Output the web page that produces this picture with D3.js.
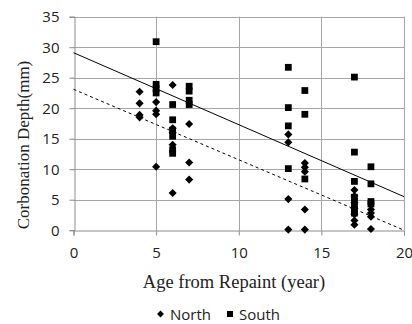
<!DOCTYPE html>
<html>
<head>
<meta charset="utf-8">
<script src="https://cdn.jsdelivr.net/npm/d3@7"></script>
<style>
  html, body { margin: 0; padding: 0; background: #fff; }
  svg { display: block; }
</style>
</head>
<body>
<div id="chart"></div>
<script>
// ---- data ----
const northX = [4,4,4,4, 5,5,5,5, 6,6,6,6,6, 7,7,7, 13,13,13,13, 14,14,14,14,14, 17,17,17,17,17,17,17, 18,18,18,18];
const northY = [22.7,20.8,18.9,18.5, 21.0,19.6,19.0,10.4, 23.8,16.7,16.0,14.0,6.1, 17.4,11.1,8.3, 15.7,14.4,5.1,0.1, 11.0,10.3,9.6,3.4,0.1, 6.6,5.6,4.5,3.6,2.6,1.6,0.9, 3.4,2.8,2.2,0.2];
const southX = [5,5,5,5, 6,6,6,6,6,6, 7,7,7,7, 13,13,13,13, 14,14,14, 17,17,17,17,17,17,17,17, 18,18,18,18];
const southY = [30.9,23.9,23.2,22.5, 20.6,18.1,16.4,15.4,13.2,12.6, 23.6,22.8,21.3,20.6, 26.7,20.1,17.1,10.1, 22.9,19.0,8.4, 25.1,12.8,8.0,5.4,4.7,4.0,3.4,2.8, 10.4,7.6,4.7,4.3];
const trendX = [0, 20];
const southTrendY = [29.1, 5.5];
const northTrendY = [23.1, 0];
const xTicks = [0, 5, 10, 15, 20];
const yTicks = [0, 5, 10, 15, 20, 25, 30, 35];
const seriesNames = ["North", "South"];
const xTitle = "Age from Repaint (year)";
const yTitle = "Corbonation Depth(mm)";

// ---- layout ----
const W = 412, H = 324;
const svg = d3.select("#chart").append("svg").attr("width", W).attr("height", H);

const x = d3.scaleLinear().domain([0, 20]).range([73.5, 404]);
const y = d3.scaleLinear().domain([0, 35]).range([230.2, 16.7]);

const gridColor = "#a6a6a6";
const axisColor = "#8c8c8c";
const tickFont = "'Open Sans', sans-serif";
const serif = "'Liberation Serif', 'Times New Roman', serif";

// gridlines
svg.append("g").selectAll("line.h").data(yTicks.filter(d => d > 0)).join("line")
  .attr("x1", x(0)).attr("x2", x(20))
  .attr("y1", d => Math.round(y(d)) + 0.5).attr("y2", d => Math.round(y(d)) + 0.5)
  .attr("stroke", gridColor).attr("stroke-width", 1);
svg.append("g").selectAll("line.v").data(xTicks.filter(d => d > 0)).join("line")
  .attr("y1", y(0)).attr("y2", y(35))
  .attr("x1", d => Math.round(x(d)) + 0.5).attr("x2", d => Math.round(x(d)) + 0.5)
  .attr("stroke", gridColor).attr("stroke-width", 1);

// axes
const yAxis = d3.axisLeft(y).tickValues(yTicks).tickSize(5).tickPadding(10).tickFormat(d3.format("d"));
const xAxis = d3.axisBottom(x).tickValues(xTicks).tickSize(5).tickPadding(12).tickFormat(d3.format("d"));

const gy = svg.append("g").attr("transform", `translate(${Math.round(x(0)) + 0.5},0)`).call(yAxis);
const gx = svg.append("g").attr("transform", `translate(0,${Math.round(y(0)) + 0.5})`).call(xAxis);
[gx, gy].forEach(g => {
  g.select(".domain").attr("stroke", axisColor);
  g.selectAll(".tick line").attr("stroke", axisColor);
  g.selectAll(".tick text").attr("fill", "#222").style("font-family", tickFont).style("font-size", "15px");
});

// trendlines
const line = d3.line().x(d => x(d[0])).y(d => y(d[1]));
svg.append("path").datum(trendX.map((v, i) => [v, southTrendY[i]]))
  .attr("d", line).attr("fill", "none").attr("stroke", "#000").attr("stroke-width", 1);
svg.append("path").datum(trendX.map((v, i) => [v, northTrendY[i]]))
  .attr("d", line).attr("fill", "none").attr("stroke", "#000").attr("stroke-width", 1)
  .attr("stroke-dasharray", "3,3");

// markers
const diamond = d3.symbol().type(d3.symbolDiamond2).size(42);
const square = d3.symbol().type(d3.symbolSquare).size(46);

svg.append("g").selectAll("path").data(northX.map((v, i) => [v, northY[i]])).join("path")
  .attr("d", diamond)
  .attr("transform", d => `translate(${x(d[0])},${y(d[1])})`)
  .attr("fill", "#000");
svg.append("g").selectAll("path").data(southX.map((v, i) => [v, southY[i]])).join("path")
  .attr("d", square)
  .attr("transform", d => `translate(${x(d[0])},${y(d[1])})`)
  .attr("fill", "#000");

// axis titles
svg.append("text").attr("x", 234).attr("y", 288)
  .attr("text-anchor", "middle").style("font-family", serif).style("font-size", "18.5px")
  .attr("fill", "#222").text(xTitle);
svg.append("text").attr("transform", `translate(29,145) rotate(-90)`)
  .attr("text-anchor", "middle").style("font-family", serif).style("font-size", "17px")
  .attr("fill", "#222").text(yTitle);

// legend
const leg = svg.append("g");
leg.append("path").attr("d", d3.symbol().type(d3.symbolDiamond2).size(30))
  .attr("transform", "translate(160.5,314)").attr("fill", "#000");
leg.append("text").attr("x", 170).attr("y", 319.5).style("font-family", tickFont).style("font-size", "15px")
  .attr("fill", "#222").text(seriesNames[0]);
leg.append("path").attr("d", d3.symbol().type(d3.symbolSquare).size(36))
  .attr("transform", "translate(230,314)").attr("fill", "#000");
leg.append("text").attr("x", 239).attr("y", 319.5).style("font-family", tickFont).style("font-size", "15px")
  .attr("fill", "#222").text(seriesNames[1]);
</script>
</body>
</html>
